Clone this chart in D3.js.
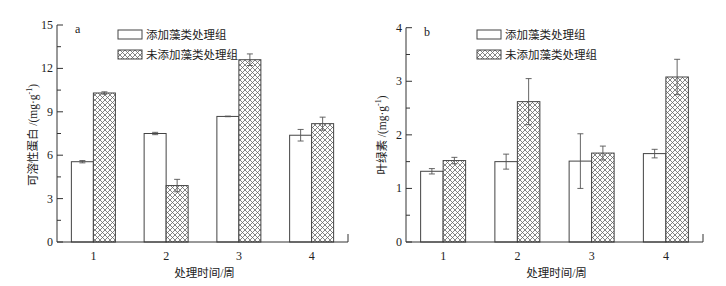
<!DOCTYPE html>
<html>
<head>
<meta charset="utf-8">
<script src="https://cdn.jsdelivr.net/npm/d3@7"></script>
<style>
  body { margin: 0; background: #fff; }
  svg text { font-family: "Liberation Serif", "Noto Sans CJK SC", serif; fill: #222; }
</style>
</head>
<body>
<div id="chart"></div>
<script>
const weeks = ["1", "2", "3", "4"];
const seriesNames = ["添加藻类处理组", "未添加藻类处理组"];

// panel a: soluble protein
const proteinAlgae = [5.55, 7.5, 8.68, 7.38];
const proteinAlgaeErr = [0.08, 0.08, 0.02, 0.4];
const proteinNoAlgae = [10.3, 3.9, 12.6, 8.18];
const proteinNoAlgaeErr = [0.08, 0.43, 0.4, 0.45];
const proteinTicks = [0, 3, 6, 9, 12, 15];

// panel b: chlorophyll
const chlAlgae = [1.32, 1.5, 1.51, 1.65];
const chlAlgaeErr = [0.05, 0.14, 0.51, 0.08];
const chlNoAlgae = [1.52, 2.62, 1.66, 3.08];
const chlNoAlgaeErr = [0.06, 0.43, 0.13, 0.33];
const chlTicks = [0, 1, 2, 3, 4];

const W = 726, H = 286;
const svg = d3.select('#chart').append('svg')
    .attr('width', W)
    .attr('height', H);

// cross hatch
const defs = svg.append('defs');
const pat = defs.append('pattern')
    .attr('id', 'hatch')
    .attr('patternUnits', 'userSpaceOnUse')
    .attr('width', 5)
    .attr('height', 5);
pat.append('rect').attr('width', 5).attr('height', 5).attr('fill', '#fff');
pat.append('path')
    .attr('d', 'M-1,1 l2,-2 M0,5 l5,-5 M4,6 l2,-2 M-1,4 l2,2 M0,0 l5,5 M4,-1 l2,2')
    .attr('stroke', '#666')
    .attr('stroke-width', 0.8);

function drawPanel(opt) {
    const g = svg.append('g');
    const x = d3.scaleBand()
        .domain(weeks)
        .range([opt.left, opt.right]);
    const y = d3.scaleLinear()
        .domain([0, opt.max])
        .range([opt.bottom, opt.top]);
    const bw = opt.barW;

    // bars
    const groups = [
        { vals: opt.s1, errs: opt.e1, dx: -bw, fill: '#fff' },
        { vals: opt.s2, errs: opt.e2, dx: 0, fill: 'url(#hatch)' }
    ];
    groups.forEach(s => {
        g.selectAll(null)
            .data(weeks)
            .enter()
            .append('rect')
            .attr('x', d => x(d) + x.bandwidth() / 2 + s.dx)
            .attr('y', (d, i) => y(s.vals[i]))
            .attr('width', bw)
            .attr('height', (d, i) => y(0) - y(s.vals[i]))
            .attr('fill', s.fill)
            .attr('stroke', '#444')
            .attr('stroke-width', 1);
    });
    // error bars
    groups.forEach(s => {
        weeks.forEach((d, i) => {
            const cx = x(d) + x.bandwidth() / 2 + s.dx + bw / 2;
            const y1 = y(s.vals[i] + s.errs[i]);
            const y2 = y(s.vals[i] - s.errs[i]);
            g.append('path')
                .attr('d', `M${cx},${y1}V${y2}M${cx - 3},${y1}h6M${cx - 3},${y2}h6`)
                .attr('stroke', '#555')
                .attr('stroke-width', 0.9)
                .attr('fill', 'none');
        });
    });

    // axes
    const yMinor = d3.range(0, opt.max + 1e-9, opt.minor);
    g.append('path')
        .attr('d', `M${opt.left},${opt.top}V${opt.bottom}H${opt.right}V${opt.bottom - 8}`)
        .attr('stroke', '#333')
        .attr('fill', 'none');
    g.selectAll(null)
        .data(yMinor)
        .enter()
        .append('line')
        .attr('x1', opt.left)
        .attr('x2', d => opt.left + (opt.ticks.includes(+d.toFixed(3)) ? 6 : 4))
        .attr('y1', d => y(d))
        .attr('y2', d => y(d))
        .attr('stroke', '#333');
    g.selectAll(null)
        .data(opt.ticks)
        .enter()
        .append('text')
        .attr('x', opt.left - 4)
        .attr('y', d => y(d) + 4)
        .attr('text-anchor', 'end')
        .attr('font-size', 12)
        .text(d => d);
    g.selectAll(null)
        .data(weeks)
        .enter()
        .append('text')
        .attr('x', d => x(d) + x.bandwidth() / 2)
        .attr('y', opt.bottom + 18)
        .attr('text-anchor', 'middle')
        .attr('font-size', 12)
        .text(d => d);

    // titles
    g.append('text')
        .attr('x', (opt.left + opt.right) / 2 + 2)
        .attr('y', opt.bottom + 35)
        .attr('text-anchor', 'middle')
        .attr('font-size', 11.5)
        .text('处理时间/周');
    const yl = g.append('text')
        .attr('transform', `translate(${opt.ylabelX},${opt.ylabelY}) rotate(-90)`)
        .attr('text-anchor', 'middle')
        .attr('font-size', 11.5);
    yl.append('tspan').text(opt.ylabel + ' /(mg·g');
    yl.append('tspan').attr('font-size', 8).attr('dy', -5).text('-1');
    yl.append('tspan').attr('dy', 5).text(')');
    g.append('text')
        .attr('x', opt.left + 18)
        .attr('y', opt.top + 8)
        .attr('font-size', 12)
        .text(opt.tag);

    // legend
    seriesNames.forEach((name, i) => {
        const ly = opt.legendY + i * 20;
        g.append('rect')
            .attr('x', opt.legendX)
            .attr('y', ly)
            .attr('width', 24)
            .attr('height', 9)
            .attr('fill', i === 0 ? '#fff' : 'url(#hatch)')
            .attr('stroke', '#444');
        g.append('text')
            .attr('x', opt.legendX + 28)
            .attr('y', ly + 9)
            .attr('font-size', 11.5)
            .text(name);
    });
}

drawPanel({
    left: 57, right: 348, top: 25, bottom: 242, max: 15, minor: 1.5,
    ticks: proteinTicks, barW: 22,
    s1: proteinAlgae, e1: proteinAlgaeErr, s2: proteinNoAlgae, e2: proteinNoAlgaeErr,
    ylabel: '可溶性蛋白', ylabelX: 37, ylabelY: 135, tag: 'a',
    legendX: 118, legendY: 30
});
drawPanel({
    left: 406, right: 703, top: 27.7, bottom: 242, max: 4, minor: 0.5,
    ticks: chlTicks, barW: 22.5,
    s1: chlAlgae, e1: chlAlgaeErr, s2: chlNoAlgae, e2: chlNoAlgaeErr,
    ylabel: '叶绿素', ylabelX: 386, ylabelY: 135, tag: 'b',
    legendX: 477, legendY: 30
});
</script>
</body>
</html>
